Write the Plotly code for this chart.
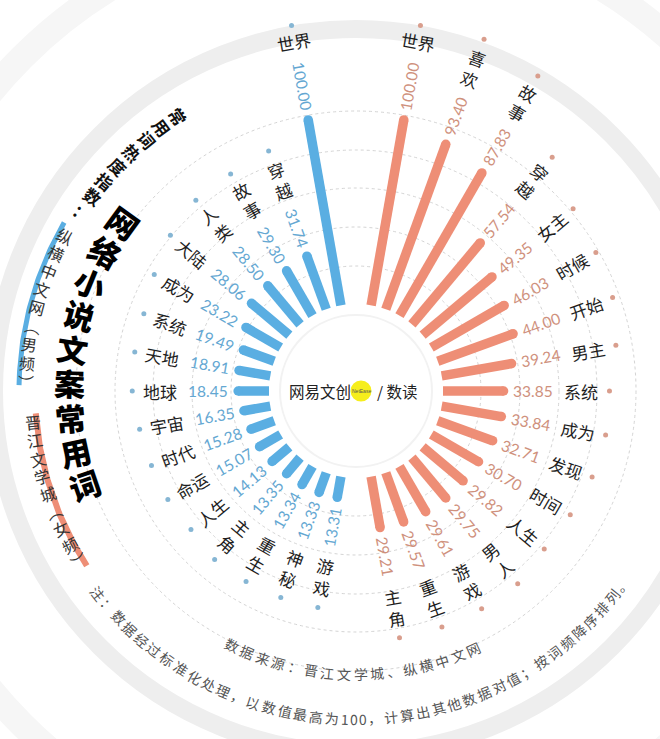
import numpy as np
import plotly.graph_objects as go

# ---------------- data ----------------
left_words = ["世界", "穿越", "故事", "人类", "大陆", "成为", "系统", "天地", "地球",
              "宇宙", "时代", "命运", "人生", "主角", "重生", "神秘", "游戏"]
left_values = [100.00, 31.74, 29.30, 28.50, 28.06, 23.22, 19.49, 18.91, 18.45,
               16.35, 15.28, 15.07, 14.13, 13.35, 13.34, 13.33, 13.31]
right_words = ["世界", "喜欢", "故事", "穿越", "女主", "时候", "开始", "男主", "系统",
               "成为", "发现", "时间", "人生", "男人", "游戏", "重生", "主角"]
right_values = [100.00, 93.40, 87.83, 57.54, 49.35, 46.03, 44.00, 39.24, 33.85,
                33.84, 32.71, 30.70, 29.82, 29.75, 29.61, 29.57, 29.21]

title_small = "常用词热度指数："
title_big = "网络小说文案常用词"
legend_male = "纵横中文网︵男频︶"
legend_female = "晋江文学城︵女频︶"
source_text = "数据来源：晋江文学城、纵横中文网"
note_text = "注：数据经过标准化处理，以数值最高为100，计算出其他数据对值；按词频降序排列。"

# ---------------- geometry / style ----------------
W, H = 660, 739
CX, CY = 356, 391          # centre of the radial chart (px from top-left)
R0 = 87                    # inner radius of bars (px)
K = 1.93                   # px per index unit
BAR_W = 9.5
BLUE = "#5aaee2"
SALMON = "#ee8e76"
BLUE_TXT = "#64a7d2"
SALMON_TXT = "#cf917d"
BLUE_DOT = "#86b6d4"
SALMON_DOT = "#d99e8d"
WORD_COL = "#1e1e1e"
CJK = "Noto Sans CJK SC"
NUM = "Lato"
VSIZE = 15.5
WSIZE = 17


def xy(r, th):
    t = np.radians(th)
    return r * np.sin(t), r * np.cos(t)


def num_width(s, size=VSIZE):
    return sum(0.27 * size if c == "." else 0.58 * size for c in s)


fig = go.Figure()
annotations = []
shapes = []


def ann(x, y, text, size, color, angle=0, family=CJK, weight=None):
    f = dict(size=size, color=color, family=family)
    if weight is not None:
        f["weight"] = weight
    annotations.append(dict(x=x, y=y, xref="x", yref="y", text=text, showarrow=False,
                            textangle=angle, xanchor="center", yanchor="middle", font=f))


# background rings
for r, w, c in [(472, 26, "#f6f6f6"), (362, 18, "#eeeeee")]:
    shapes.append(dict(type="circle", xref="x", yref="y", x0=-r, x1=r, y0=-r, y1=r,
                       line=dict(color=c, width=w), layer="below"))
for r in [125, 164, 203, 241, 280]:
    shapes.append(dict(type="circle", xref="x", yref="y", x0=-r, x1=r, y0=-r, y1=r,
                       line=dict(color="#d4d4d4", width=1, dash="dot"), layer="below"))
shapes.append(dict(type="circle", xref="x", yref="y", x0=-76, x1=76, y0=-76, y1=76,
                   fillcolor="white", line=dict(color="#f2f2f2", width=2), layer="below"))


def side(words, values, sign, bar_col, txt_col, dot_col):
    bx, by, mx, my, dx, dy = [], [], [], [], [], []
    for i, (w, v) in enumerate(zip(words, values)):
        th = sign * (10 + 10 * i)
        a = abs(th)
        r_end = R0 + K * v
        x0, y0 = xy(R0, th)
        x1, y1 = xy(r_end - BAR_W / 2, th)
        bx += [x0, x1, None]
        by += [y0, y1, None]
        mx.append(x1)
        my.append(y1)
        s = f"{v:.2f}"
        vw = num_width(s)
        vang = th - 90 if sign > 0 else th + 90
        ax, ay = xy(r_end + 5 + vw / 2, th)
        ann(ax, ay, s, VSIZE, txt_col, vang, family=NUM)
        # word label
        if i == 0:
            txt, half, wang = w, 10, th
        elif 50 <= a <= 130:
            txt, half, wang = w, 17, vang
        else:
            txt, half = w[0] + "<br>" + w[1], 20
            if a < 50:
                wang = th
            else:
                wang = th - 180 if sign > 0 else th + 180
        rw = r_end + 5 + vw + 11 + half
        wx, wy = xy(rw, th)
        ann(wx, wy, txt, WSIZE, WORD_COL, wang)
        ddx, ddy = xy(rw + half + (6 if i == 0 else 11), th)
        dx.append(ddx)
        dy.append(ddy)
    fig.add_trace(go.Scatter(x=bx, y=by, mode="lines", line=dict(color=bar_col, width=BAR_W),
                             hoverinfo="skip", showlegend=False))
    fig.add_trace(go.Scatter(x=mx, y=my, mode="markers", marker=dict(color=bar_col, size=BAR_W),
                             hoverinfo="skip", showlegend=False))
    fig.add_trace(go.Scatter(x=dx, y=dy, mode="markers", marker=dict(color=dot_col, size=5),
                             hoverinfo="skip", showlegend=False))


side(left_words, left_values, -1, BLUE, BLUE_TXT, BLUE_DOT)
side(right_words, right_values, 1, SALMON, SALMON_TXT, SALMON_DOT)


def arc_text(text, r, th0, th1, size, color, mode, weight=None):
    wts = np.array([0.55 if ch.isdigit() else 1.0 for ch in text])
    cum = np.concatenate([[0], np.cumsum((wts[:-1] + wts[1:]) / 2)])
    frac = cum / cum[-1]
    for ch, f in zip(text, frac):
        th = th0 + (th1 - th0) * f
        x, y = xy(r, th)
        ang = th + 90 if mode == "left" else th - 180
        ann(x, y, ch, size, color, ang, weight=weight)


def arc_band(r, th0, th1, width, color):
    ths = np.linspace(th0, th1, 60)
    x, y = xy(r, ths)
    fig.add_trace(go.Scatter(x=x, y=y, mode="lines", line=dict(color=color, width=width),
                             hoverinfo="skip", showlegend=False))


arc_band(337, -60, -89, 5, BLUE)
arc_band(321, -94, -123, 6, SALMON)

arc_text(title_small, 327, -33, -57, 17, "#111111", "left", weight=700)
arc_text(title_big, 287, -54, -109, 31, "#000000", "left", weight=900)
arc_text(legend_male, 330, -62, -88.5, 16, "#333333", "left")
arc_text(legend_female, 325, -95.5, -121.5, 16, "#333333", "left")
arc_text(source_text, 283, 206, 155.5, 14, "#555555", "bottom")
arc_text(note_text, 328, 232, 126, 14, "#555555", "bottom")

# centre logo
shapes.append(dict(type="circle", xref="x", yref="y", x0=5 - 10.5, x1=5 + 10.5, y0=-10.5, y1=10.5,
                   fillcolor="#f6ee1c", line=dict(width=0), layer="above"))
ann(-36, 0, "网易文创", 15.5, "#222222")
ann(5, 0, "NetEase", 5, "#555555", family="Liberation Sans")
ann(41, 0, "/ 数读", 15.5, "#222222")

fig.update_layout(
    width=W, height=H, margin=dict(l=0, r=0, t=0, b=0),
    paper_bgcolor="white", plot_bgcolor="white",
    xaxis=dict(range=[-CX, W - CX], visible=False, fixedrange=True),
    yaxis=dict(range=[-(H - CY), CY], visible=False, fixedrange=True),
    shapes=shapes, annotations=annotations, showlegend=False,
)
fig.write_html("out.html")
